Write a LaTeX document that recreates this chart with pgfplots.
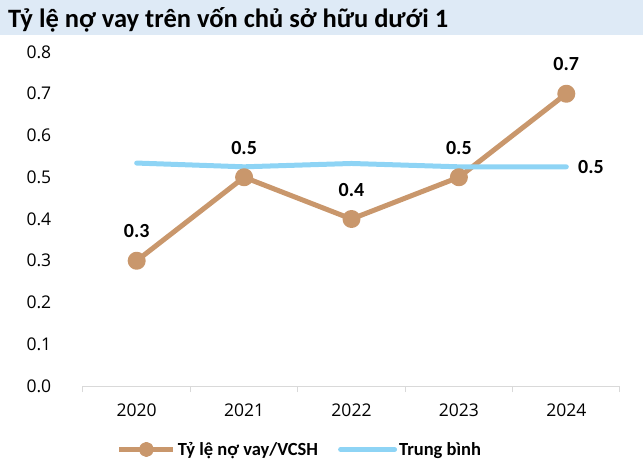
\documentclass[border=0pt]{standalone}
\usepackage{fontspec}
\setmainfont{Carlito}
\newfontfamily\tickfont{Open Sans}
\usepackage{pgfplots}
\pgfplotsset{compat=1.18}
\definecolor{brownline}{RGB}{201,151,108}
\definecolor{blueline}{RGB}{142,212,245}
\definecolor{titlebg}{RGB}{222,234,246}
\definecolor{axgray}{RGB}{217,217,217}
\begin{document}
\begin{tikzpicture}[x=1pt,y=1pt]
\useasboundingbox (0,0) rectangle (643,464);
\fill[titlebg] (0,429) rectangle (643,464);
\node[anchor=base west, inner sep=0pt, font=\fontsize{26.5}{30}\selectfont\bfseries] at (8,436) {Tỷ lệ nợ vay trên vốn chủ sở hữu dưới 1};
\begin{axis}[
  at={(83pt,78pt)}, anchor=south west,
  scale only axis, width=537pt, height=334pt,
  xmin=-0.5, xmax=4.5, ymin=0, ymax=0.8,
  axis x line*=bottom, axis y line*=left,
  y axis line style={draw=none},
  x axis line style={draw=axgray, line width=1pt},
  xtick={0,1,2,3,4},
  xticklabels={2020,2021,2022,2023,2024},
  major x tick style={draw=none},
  minor xtick={-0.5,0.5,1.5,2.5,3.5,4.5},
  minor x tick style={draw=axgray, line width=1pt},
  minor tick length=6pt,
  tick align=outside,
  ytick={0,0.1,...,0.8},
  ytick style={draw=none},
  yticklabel={\pgfmathprintnumber[fixed,fixed zerofill,precision=1]{\tick}},
  /pgf/number format/assume math mode=true,
  ticklabel style={font=\tickfont\fontsize{17.5}{20}\selectfont},
  yticklabel style={xshift=-24pt},
  xticklabel style={yshift=-10pt},
  clip=false,
  legend columns=2,
  legend style={at={(0.404,-0.19)}, anchor=center, draw=none, fill=none,
     font=\fontsize{18.5}{22}\selectfont\bfseries,
     /tikz/every even column/.append style={column sep=18pt}},
  legend image code/.code={\draw[#1, mark size=5pt, mark repeat=2, mark phase=2] plot coordinates {(0pt,0pt) (27pt,0pt) (54pt,0pt)};},
  nodes near coords,
  point meta=explicit symbolic,
  every node near coord/.append style={font=\fontsize{20}{24}\selectfont\bfseries, text=black},
]
\addplot[brownline, line width=5pt, line join=round, mark=*, mark size=6.5pt, mark options={solid, fill=brownline, draw=none},
  nodes near coords style={anchor=south, yshift=17pt}]
  table[meta=label] {
x y label
0 0.3 0.3
1 0.5 0.5
2 0.4 0.4
3 0.5 0.5
4 0.7 0.7
};
\addlegendentry{Tỷ lệ nợ vay/VCSH}
\addplot[blueline, line width=5pt, line cap=round, line join=round,
  nodes near coords style={anchor=west, xshift=6pt}]
  table[meta=label] {
x y label
0 0.534 {}
1 0.525 {}
2 0.533 {}
3 0.525 {}
4 0.525 0.5
};
\addlegendentry{Trung bình}
\end{axis}
\end{tikzpicture}
\end{document}
